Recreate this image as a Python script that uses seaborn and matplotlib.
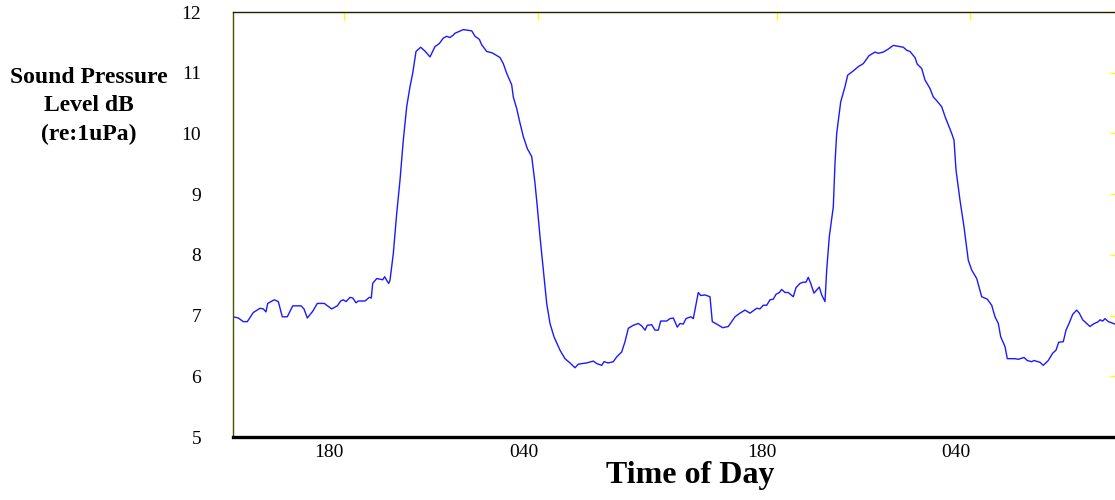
import matplotlib
matplotlib.use("Agg")
import matplotlib.pyplot as plt
import numpy as np
import pandas as pd
import seaborn as sns

# time axis (arbitrary sample units) and sound pressure readings
t = [0.03, 0.53, 1.03, 1.43, 2.03, 2.7, 3.03, 3.3, 3.47, 4.13, 4.53, 4.93, 5.43,
     5.97, 6.8, 7.1, 7.43, 7.97, 8.43, 9.13, 9.37, 9.87, 10.43, 10.77, 11.03,
     11.3, 11.7, 11.97, 12.3, 12.53, 13.2, 13.63, 13.83, 13.97, 14.37, 14.97,
     15.17, 15.37, 15.57, 15.7, 16.03, 16.37, 16.7, 17.03, 17.37, 17.7, 17.97,
     18.3, 18.77, 19.23, 19.7, 20.2, 20.63, 21.03, 21.37, 21.7, 22.03,
     22.2, 23.03, 23.87, 24.2, 24.63, 24.87, 25.37, 25.87, 26.2, 26.7, 27.03,
     27.37, 27.87, 28.03, 28.37, 28.7, 29.03, 29.43, 29.87, 30.2, 30.43, 30.7,
     31.03, 31.37, 31.7, 32.1, 32.37, 32.7, 33.2, 33.7, 34.2, 34.53, 35.37,
     36.03, 36.37, 36.87, 37.1, 37.53, 38.03, 38.37, 38.87, 39.2, 39.53, 40.03,
     40.53, 40.87, 41.2, 41.43, 41.87, 42.2, 42.53, 42.77, 43.37,
     43.7, 44.03, 44.43, 44.7, 45.03, 45.3, 45.77, 46.03, 46.53, 46.77, 47.2,
     47.7, 47.93, 48.37, 48.97, 49.53, 50.2, 50.7, 51.2, 51.7, 52.37, 52.7,
     53.03, 53.37, 53.7, 54.03, 54.3, 54.63, 54.87, 55.2, 55.53, 56.03, 56.3,
     56.7, 57.03, 57.3, 57.53, 57.77, 58.1, 58.37, 58.63, 58.87, 59.2, 59.37,
     59.63, 60.03, 60.2, 60.37, 60.77, 61.2, 61.47, 62.03, 62.53, 63.03, 63.6,
     64.2, 64.53, 65.03, 65.53, 66.03,
     66.7, 67.03, 67.37, 67.7, 68.2, 68.43, 68.87, 69.2, 69.7, 70.03, 70.37,
     70.87, 71.2, 71.53, 71.87, 72.1, 72.3, 72.7, 73.1, 73.53, 73.87, 74.37,
     74.87, 75.43, 75.87, 76.2, 76.53, 76.77, 77.2, 77.43, 78.2, 78.53, 79.1,
     79.43, 79.87, 80.1, 80.7, 81.03, 81.53, 81.97, 82.3, 82.57, 83.03, 83.3,
     83.63, 83.97, 84.37, 84.63, 84.97, 85.37, 85.7, 86.03, 86.53, 86.7, 86.97,
     87.2, 87.53, 87.87, 88.2]
spl = [6.98, 6.96, 6.90, 6.90, 7.05, 7.12, 7.11, 7.06, 7.20, 7.26, 7.23, 6.98, 6.98,
       7.16, 7.16, 7.11, 6.96, 7.07, 7.20, 7.20, 7.17, 7.11, 7.16, 7.24, 7.26,
       7.23, 7.30, 7.29, 7.21, 7.24, 7.24, 7.30, 7.29, 7.53, 7.61, 7.59,
       7.64, 7.58, 7.53, 7.58, 8.02, 8.68, 9.23, 9.89, 10.44, 10.77, 10.99,
       11.35, 11.42, 11.35, 11.26, 11.43, 11.48, 11.57, 11.60, 11.58, 11.62,
       11.65, 11.71, 11.69, 11.60, 11.55, 11.46, 11.35, 11.33, 11.30, 11.25, 11.15,
       10.99, 10.80, 10.60, 10.41, 10.17, 9.95, 9.75, 9.62, 9.18, 8.79, 8.30,
       7.75, 7.20, 6.87, 6.65, 6.55, 6.43, 6.29, 6.22, 6.14, 6.20, 6.22,
       6.25, 6.21, 6.18, 6.24, 6.22, 6.24, 6.32, 6.40, 6.57, 6.79, 6.84,
       6.87, 6.83, 6.76, 6.84, 6.85, 6.76, 6.76, 6.91, 6.91,
       6.95, 6.96, 6.81, 6.87, 6.86, 6.95, 6.98, 6.95, 7.38, 7.33, 7.34,
       7.31, 6.90, 6.86, 6.80, 6.82, 6.98, 7.04, 7.09, 7.04, 7.12, 7.11,
       7.17, 7.17, 7.26, 7.27, 7.35, 7.38, 7.43, 7.38, 7.38, 7.31, 7.46,
       7.53, 7.55, 7.55, 7.63, 7.53, 7.37, 7.42, 7.47, 7.34, 7.23, 7.75,
       8.30, 8.79, 9.51, 10.00, 10.52, 10.77, 10.96, 11.03, 11.10, 11.15, 11.28,
       11.34, 11.32, 11.34, 11.39, 11.45,
       11.43, 11.42, 11.37, 11.35, 11.25, 11.14, 11.07, 10.88, 10.74, 10.60, 10.54,
       10.44, 10.28, 10.14, 10.00, 9.89, 9.40, 8.90, 8.46, 7.91, 7.75, 7.61,
       7.31, 7.27, 7.17, 6.98, 6.87, 6.65, 6.49, 6.29, 6.29, 6.28, 6.31,
       6.26, 6.24, 6.26, 6.23, 6.18, 6.26, 6.38, 6.43, 6.56, 6.57, 6.76,
       6.88, 7.02, 7.09, 7.04, 6.93, 6.87, 6.82, 6.86, 6.90, 6.93, 6.91,
       6.95, 6.90, 6.88, 6.86]

tick_pos = [11.1, 30.5, 54.4, 73.7]
tick_labels = ["180", "040", "180", "040"]
y_ticks = [5, 6, 7, 8, 9, 10, 11, 12]

df = pd.DataFrame({"t": t, "spl": spl})

sns.set_style("white")
plt.rcParams["font.family"] = ["Liberation Serif", "DejaVu Serif"]
plt.rcParams["text.color"] = "black"

fig = plt.figure(figsize=(11.15, 5.0), dpi=100)
ax = fig.add_axes([233 / 1115, 63 / 500, 885 / 1115, 425 / 500])

sns.lineplot(data=df, x="t", y="spl", ax=ax, color="#1a1aff", linewidth=1.0)

ax.set_xlim(0, 88.5)
ax.set_ylim(5, 12)
ax.set_xticks(tick_pos)
ax.set_xticklabels(tick_labels, ha="right")
ax.set_yticks(y_ticks)
ax.set_yticklabels([str(v) for v in y_ticks])
ax.set_xlabel("")
ax.set_ylabel("")

ax.tick_params(axis="both", direction="in", length=6, width=1, color="#ffff00",
               labelsize=14, labelcolor="black", top=True, right=True)
ax.tick_params(axis="y", pad=23)
ax.tick_params(axis="x", pad=5)

ax.spines["bottom"].set_linewidth(2.4)
ax.spines["bottom"].set_color("black")
ax.spines["top"].set_linewidth(1.0)
ax.spines["top"].set_color("#202000")
ax.spines["left"].set_linewidth(1.0)
ax.spines["left"].set_color("#505000")
ax.spines["right"].set_visible(False)

fig.text(690 / 1115, 17 / 500, "Time of Day", ha="center", va="baseline",
         fontsize=23, fontweight="bold", color="black")
fig.text(89 / 1115, 1 - 106 / 500, "Sound Pressure\nLevel dB\n(re:1uPa)",
         ha="center", va="center", fontsize=17, fontweight="bold",
         linespacing=1.45, color="black")

fig.savefig("out.png", dpi=100)
